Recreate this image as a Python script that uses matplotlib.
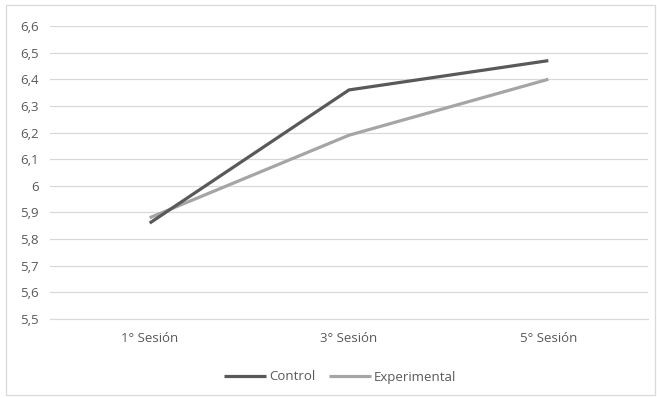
import matplotlib
matplotlib.use("Agg")
import matplotlib.pyplot as plt
from matplotlib.ticker import FuncFormatter, MultipleLocator
from matplotlib.patches import Rectangle

categories = ["1° Sesión", "3° Sesión", "5° Sesión"]
control = [5.86, 6.36, 6.47]
experimental = [5.88, 6.19, 6.40]

plt.rcParams['font.family'] = ['Open Sans', 'DejaVu Sans']

fig = plt.figure(figsize=(6.57, 3.98), dpi=100)
ax = fig.add_axes([50/657, 1 - 319/398, 598/657, (319-26)/398])

x = list(range(len(categories)))
ax.plot(x, control, color="#595959", lw=2.3, solid_capstyle="butt", label="Control", zorder=3)
ax.plot(x, experimental, color="#A5A5A5", lw=2.3, solid_capstyle="butt", label="Experimental", zorder=2)

ax.set_xlim(-0.5, 2.5)
ax.set_ylim(5.5, 6.6)
ax.yaxis.set_major_locator(MultipleLocator(0.1))

def fmt(v, pos):
    s = f"{v:.1f}"
    if s.endswith(".0"):
        s = s[:-2]
    return s.replace(".", ",")

ax.yaxis.set_major_formatter(FuncFormatter(fmt))
ax.set_xticks(x)
ax.set_xticklabels(categories)
ax.grid(axis="y", color="#D9D9D9", lw=0.9)
ax.set_axisbelow(True)
for s in ax.spines.values():
    s.set_visible(False)
ax.spines["bottom"].set_visible(True)
ax.spines["bottom"].set_color("#D9D9D9")
ax.tick_params(axis="both", length=0, labelsize=9.5, colors="#595959")
ax.tick_params(axis="y", pad=8)
ax.tick_params(axis="x", pad=9)

leg = fig.legend(loc="center", bbox_to_anchor=(340/657, 1 - 377/398), ncol=2, frameon=False,
                 fontsize=9.5, handlelength=3.2, handletextpad=0.2, columnspacing=1.0)
for t in leg.get_texts():
    t.set_color("#595959")

fig.patches.append(Rectangle((6/657, 1 - 395/398), 649/657, 390/398, transform=fig.transFigure,
                             fill=False, edgecolor="#D9D9D9", lw=0.9))

fig.savefig("out.png", dpi=100)
